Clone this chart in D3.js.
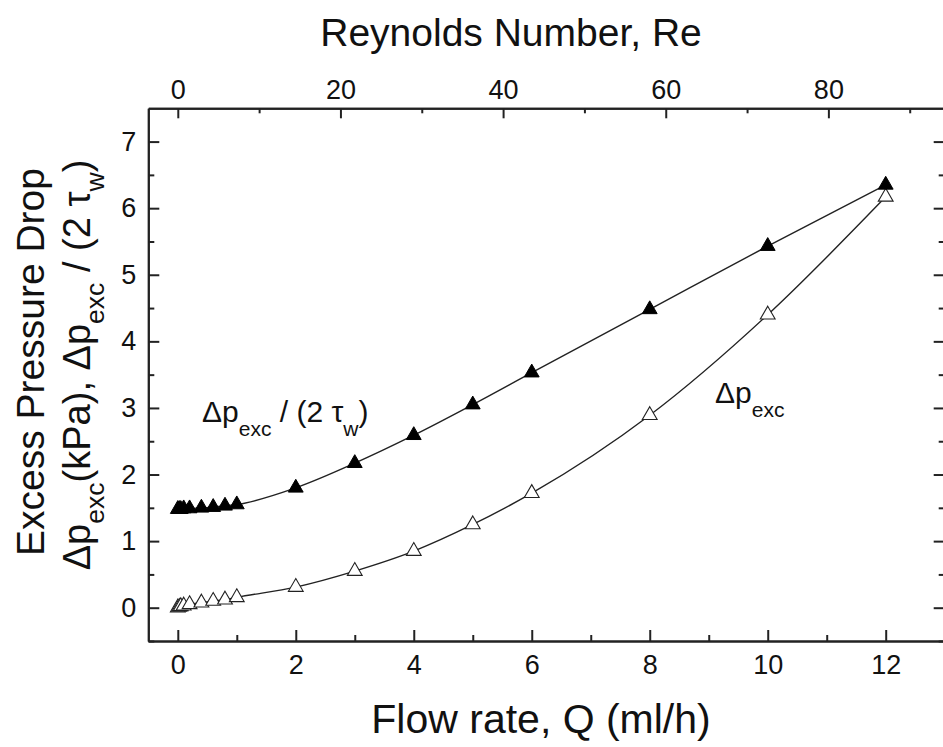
<!DOCTYPE html>
<html><head><meta charset="utf-8">
<script src="https://cdn.jsdelivr.net/npm/d3@7"></script>
<style>
body{margin:0;background:#fff;}
svg{display:block;font-family:"Liberation Sans",Arial,sans-serif;}
</style></head>
<body>
<svg id="chart" width="943" height="747"></svg>
<script>
// ---- data ----
const flowQ = [0, 0.025, 0.05, 0.1, 0.2, 0.4, 0.6, 0.8, 1, 2, 3, 4, 5, 6, 8, 10, 12];
const ratioVals = [1.48, 1.48, 1.48, 1.49, 1.49, 1.50, 1.51, 1.53, 1.55, 1.80, 2.17, 2.59, 3.05, 3.53, 4.48, 5.43, 6.35];
const dpVals = [0.0, 0.01, 0.02, 0.03, 0.05, 0.075, 0.10, 0.12, 0.155, 0.31, 0.55, 0.85, 1.25, 1.72, 2.89, 4.40, 6.17];
const xTicks = [0, 2, 4, 6, 8, 10, 12];
const xMinor = [1, 3, 5, 7, 9, 11, 13];
const yTicks = [0, 1, 2, 3, 4, 5, 6, 7];
const yMinor = [-0.5, 0.5, 1.5, 2.5, 3.5, 4.5, 5.5, 6.5];
const reTicks = [0, 20, 40, 60, 80];
const reMinor = [10, 30, 50, 70, 90];
const rePerQ = 7.254; // Reynolds number per ml/h

const svg = d3.select("#chart");
const L = 148.3, R = 944.7, T = 108.3, B = 641;
const x = d3.scaleLinear().domain([-0.5, 13]).range([L, R]);
const xRe = d3.scaleLinear().domain([-0.5 * rePerQ, 13 * rePerQ]).range([L, R]);
const y = d3.scaleLinear().domain([-0.5, 7.5]).range([B, T]);

const tickFont = 27;
function styleAxis(g) {
  g.selectAll("path.domain").attr("stroke", "#222").attr("stroke-width", 2);
  g.selectAll(".tick line").attr("stroke", "#222").attr("stroke-width", 2);
  g.selectAll("text").attr("font-size", tickFont).attr("fill", "#111")
    .attr("font-family", "Liberation Sans, Arial, sans-serif");
}

// bottom
svg.append("g").attr("transform", `translate(0,${B})`)
  .call(d3.axisBottom(x).tickValues(xTicks).tickFormat(d3.format("d")).tickSizeInner(-11).tickSizeOuter(0).tickPadding(14))
  .call(styleAxis);
svg.append("g").attr("transform", `translate(0,${B})`)
  .call(d3.axisBottom(x).tickValues(xMinor).tickFormat("").tickSizeInner(-6).tickSizeOuter(0))
  .call(styleAxis);
// top
svg.append("g").attr("transform", `translate(0,${T})`)
  .call(d3.axisTop(xRe).tickValues(reTicks).tickFormat(d3.format("d")).tickSizeInner(-10).tickSizeOuter(0).tickPadding(9))
  .call(styleAxis);
svg.append("g").attr("transform", `translate(0,${T})`)
  .call(d3.axisTop(xRe).tickValues(reMinor).tickFormat("").tickSizeInner(-5).tickSizeOuter(0))
  .call(styleAxis);
// left
svg.append("g").attr("transform", `translate(${L},0)`)
  .call(d3.axisLeft(y).tickValues(yTicks).tickFormat(d3.format("d")).tickSizeInner(-11).tickSizeOuter(0).tickPadding(12))
  .call(styleAxis);
svg.append("g").attr("transform", `translate(${L},0)`)
  .call(d3.axisLeft(y).tickValues(yMinor).tickFormat("").tickSizeInner(-6).tickSizeOuter(0))
  .call(styleAxis);
// right
svg.append("g").attr("transform", `translate(${R},0)`)
  .call(d3.axisRight(y).tickValues(yTicks).tickFormat("").tickSizeInner(-11).tickSizeOuter(0))
  .call(styleAxis);
svg.append("g").attr("transform", `translate(${R},0)`)
  .call(d3.axisRight(y).tickValues(yMinor).tickFormat("").tickSizeInner(-6).tickSizeOuter(0))
  .call(styleAxis);

// lines
const line = d3.line().x(d => x(d[0])).y(d => y(d[1])).curve(d3.curveMonotoneX);
const ratioPts = flowQ.map((q, i) => [q, ratioVals[i]]);
const dpPts = flowQ.map((q, i) => [q, dpVals[i]]);
svg.append("path").datum(ratioPts).attr("d", line).attr("fill", "none").attr("stroke", "#222").attr("stroke-width", 1.4);
svg.append("path").datum(dpPts).attr("d", line).attr("fill", "none").attr("stroke", "#222").attr("stroke-width", 1.4);

// markers
const tri = d3.symbol().type(d3.symbolTriangle).size(95);
svg.append("g").selectAll("path").data(dpPts).join("path")
  .attr("d", tri).attr("transform", d => `translate(${x(d[0])},${y(d[1])})`)
  .attr("fill", "#fff").attr("stroke", "#222").attr("stroke-width", 1.1);
svg.append("g").selectAll("path").data(ratioPts).join("path")
  .attr("d", tri).attr("transform", d => `translate(${x(d[0])},${y(d[1])})`)
  .attr("fill", "#000").attr("stroke", "#000").attr("stroke-width", 1);

// titles
svg.append("text").attr("x", 511).attr("y", 46).attr("text-anchor", "middle")
  .attr("font-size", 39).attr("fill", "#111").text("Reynolds Number, Re");
svg.append("text").attr("x", 541).attr("y", 733).attr("text-anchor", "middle")
  .attr("font-size", 41).attr("fill", "#111").text("Flow rate, Q (ml/h)");

svg.append("text").attr("transform", "translate(44,362) rotate(-90)").attr("text-anchor", "middle")
  .attr("font-size", 39).attr("fill", "#111").text("Excess Pressure Drop");

function richText(parent, parts, size, shift) {
  parts.forEach(p => {
    const ts = parent.append("tspan").text(p.t);
    if (p.sub) ts.attr("font-size", size * 0.7).attr("dy", size * shift);
    else ts.attr("font-size", size);
    if (p.back) ts.attr("dy", -size * shift);
  });
  return parent;
}
const ylab2 = svg.append("text").attr("transform", "translate(90,365) rotate(-90)").attr("text-anchor", "middle").attr("fill", "#111");
richText(ylab2, [
  {t: "Δp"}, {t: "exc", sub: true}, {t: "(kPa), Δp", back: true}, {t: "exc", sub: true}, {t: " / (2 τ", back: true}, {t: "w", sub: true}, {t: ")", back: true}
], 38, 0.38);

const ann1 = svg.append("text").attr("x", 202).attr("y", 422).attr("fill", "#111");
richText(ann1, [{t: "Δp"}, {t: "exc", sub: true}, {t: " / (2 τ", back: true}, {t: "w", sub: true}, {t: ")", back: true}], 30, 0.45);
const ann2 = svg.append("text").attr("x", 715).attr("y", 403).attr("fill", "#111");
richText(ann2, [{t: "Δp"}, {t: "exc", sub: true}], 30, 0.45);
</script>
</body></html>
